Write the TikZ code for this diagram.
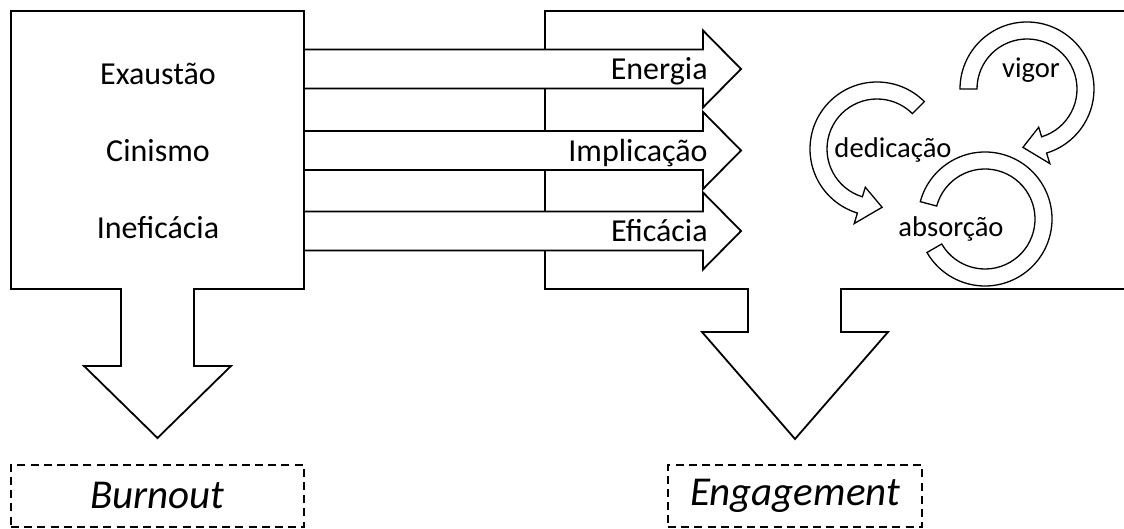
\documentclass[tikz,border=0pt]{standalone}
\usepackage{fontspec}
\setmainfont{Carlito}
\begin{document}
\begin{tikzpicture}[line join=miter, x=0.5pt, y=0.5pt]
	\tikzset{blk/.style={draw=black, line width=0.9pt, fill=white},
		ring/.style={draw=black, line width=0.65pt, fill=white},
		lbl/.style={inner sep=0pt, font=\fontsize{16}{19}\selectfont},
		clbl/.style={inner sep=0pt, anchor=base, font=\fontsize{14.3}{17}\selectfont},
		dashbox/.style={draw, line width=1.1pt, dash pattern=on 4pt off 2.6pt, minimum height=31pt, inner sep=0pt, font=\fontsize{20.5}{24}\selectfont\itshape}}
	\def\rin{50} \def\rout{67} \def\hin{40} \def\hout{78} \def\rmid{58.5}
	% circular arrow: centre, start angle, base angle, tip angle
	\def\carrow(#1)#2#3#4{\draw[ring, shift={(#1)}] (#2:\rout) arc[start angle=#2, end angle=#3, radius=\rout]
		-- (#3:\hout) -- (#4:\rmid) -- (#3:\hin) -- (#3:\rin) arc[start angle=#3, end angle=#2, radius=\rin] -- cycle;}
	\useasboundingbox (0,0) rectangle (1124,529);
	%\draw[gray!40] (0,0) grid[step=50] (1124,529);
	\draw[blk] (1124,518) -- (545,518) -- (545,240) -- (748,240) -- (748,197) -- (702,197) -- (795,90)
		-- (888,197) -- (841,197) -- (841,240) -- (1124,240);
	\foreach \y/\t/\n in {460/Energia/en, 378.5/Implicação/im, 298/Eficácia/ef}{
		\draw[blk] (304,\y+19.5) -- (703,\y+19.5) -- (703,\y+38.5) -- (741,\y) -- (703,\y-38.5) -- (703,\y-19.5) -- (304,\y-19.5);
		\node[lbl, anchor=base east] (\n) at (708,\y-11) {\t};}
	\draw[blk, fill=none] (11,518) -- (304,518) -- (304,240) -- (194,240) -- (194,163) -- (231,163) -- (157.5,91)
		-- (84,163) -- (121,163) -- (121,240) -- (11,240) -- cycle;
	\foreach \y/\t/\n in {444/Exaustão/ex, 367/Cinismo/ci, 290/Ineficácia/in}
		\node[lbl, anchor=base] (\n) at (158,\y) {\t};
	% block arcs
	\draw[ring, shift={(985,310)}] (165:\rout) arc[start angle=165, end angle=-150, radius=\rout]
		-- (-150:\rin) arc[start angle=-150, end angle=165, radius=\rin] -- cycle;
	\carrow(877,380){45}{253}{275}
	\carrow(1027,440){180}{-73}{-94}
	\node[clbl] (vig) at (1031,451) {vigor};
	\node[clbl] (ded) at (893,371) {dedicação};
	\node[clbl] (abs) at (951,292) {absorção};
	\node[dashbox, minimum width=146.5pt] (burn) at (157.5,33) {Burnout};
	\node[dashbox, minimum width=127pt] (eng) at (795,33) {Engagement};
\end{tikzpicture}
\end{document}
